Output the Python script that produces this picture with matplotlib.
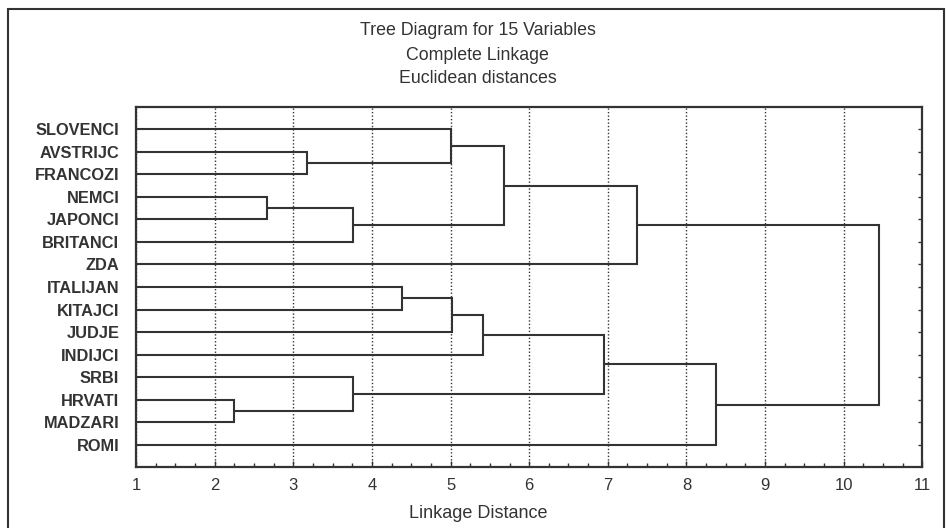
import matplotlib
matplotlib.use("Agg")
import matplotlib.pyplot as plt
from matplotlib.patches import Rectangle
from matplotlib.ticker import MultipleLocator

plt.rcParams['font.family'] = ['Liberation Sans', 'DejaVu Sans']

# Leaves, top to bottom
labels = ['SLOVENCI', 'AVSTRIJC', 'FRANCOZI', 'NEMCI', 'JAPONCI', 'BRITANCI', 'ZDA',
          'ITALIJAN', 'KITAJCI', 'JUDJE', 'INDIJCI', 'SRBI', 'HRVATI', 'MADZARI', 'ROMI']

# Merge steps: (child a, child b) -> new node 15, 16, ...
merge_left = [12, 3, 1, 16, 11, 7, 0, 20, 22, 21, 23, 24, 25, 26]
merge_right = [13, 4, 2, 5, 15, 8, 17, 9, 10, 18, 19, 6, 14, 27]
merge_dist = [2.25, 2.66, 3.18, 3.76, 3.76, 4.38, 5.01, 5.02, 5.41, 5.68, 6.95, 7.37, 8.38, 10.45]

x_ticks = list(range(1, 12))

INK = '#333333'

fig = plt.figure(figsize=(9.48, 5.28), dpi=100)
ax = fig.add_axes([0.1435, 0.1150, 0.8294, 0.6829])

# node positions: y = row, x = height
ypos = {i: i + 1 for i in range(len(labels))}
xpos = {i: 1.0 for i in range(len(labels))}

for k, (a, b, d) in enumerate(zip(merge_left, merge_right, merge_dist)):
    node = len(labels) + k
    for c in (a, b):
        ax.plot([xpos[c], d], [ypos[c], ypos[c]], color=INK, lw=1.5, solid_capstyle='butt')
    ax.plot([d, d], [ypos[a], ypos[b]], color=INK, lw=1.5, solid_capstyle='projecting')
    ypos[node] = (ypos[a] + ypos[b]) / 2
    xpos[node] = d

ax.set_xlim(1, 11)
ax.set_ylim(len(labels) + 1, 0)
ax.set_xticks(x_ticks)
ax.set_xticklabels([str(t) for t in x_ticks], fontsize=12, color=INK)
ax.xaxis.set_minor_locator(MultipleLocator(0.25))
ax.set_yticks([ypos[i] for i in range(len(labels))])
ax.set_yticklabels(labels, fontsize=11.8, fontweight='bold', color=INK)

ax.tick_params(axis='x', which='major', direction='in', length=4, width=1, pad=8, color=INK)
ax.tick_params(axis='x', which='minor', direction='in', length=3, width=1, color=INK)
# small inward ticks on the right spine only
ax.tick_params(axis='y', which='major', direction='in', length=3, width=1, pad=12,
               left=False, right=True, color=INK)

ax.grid(axis='x', which='major', linestyle=(0, (1, 1.5)), color=INK, lw=1)
for s in ax.spines.values():
    s.set_color(INK)
    s.set_linewidth(1.6)

fig.text(0.504, 0.9419, 'Tree Diagram for 15 Variables', ha='center', va='center',
         fontsize=12.8, color=INK)
fig.text(0.504, 0.8958, 'Complete Linkage', ha='center', va='center', fontsize=12.8, color=INK)
fig.text(0.504, 0.8504, 'Euclidean distances', ha='center', va='center', fontsize=12.8, color=INK)
fig.text(0.504, 0.0284, 'Linkage Distance', ha='center', va='center', fontsize=13, color=INK)

# outer frame of the figure
fig.add_artist(Rectangle((8 / 948, -0.1), (944 - 8) / 948, 1.1 - 9 / 528,
                         transform=fig.transFigure, fill=False, ec=INK, lw=1.5,
                         clip_on=False))

fig.savefig('out.png', dpi=100)
